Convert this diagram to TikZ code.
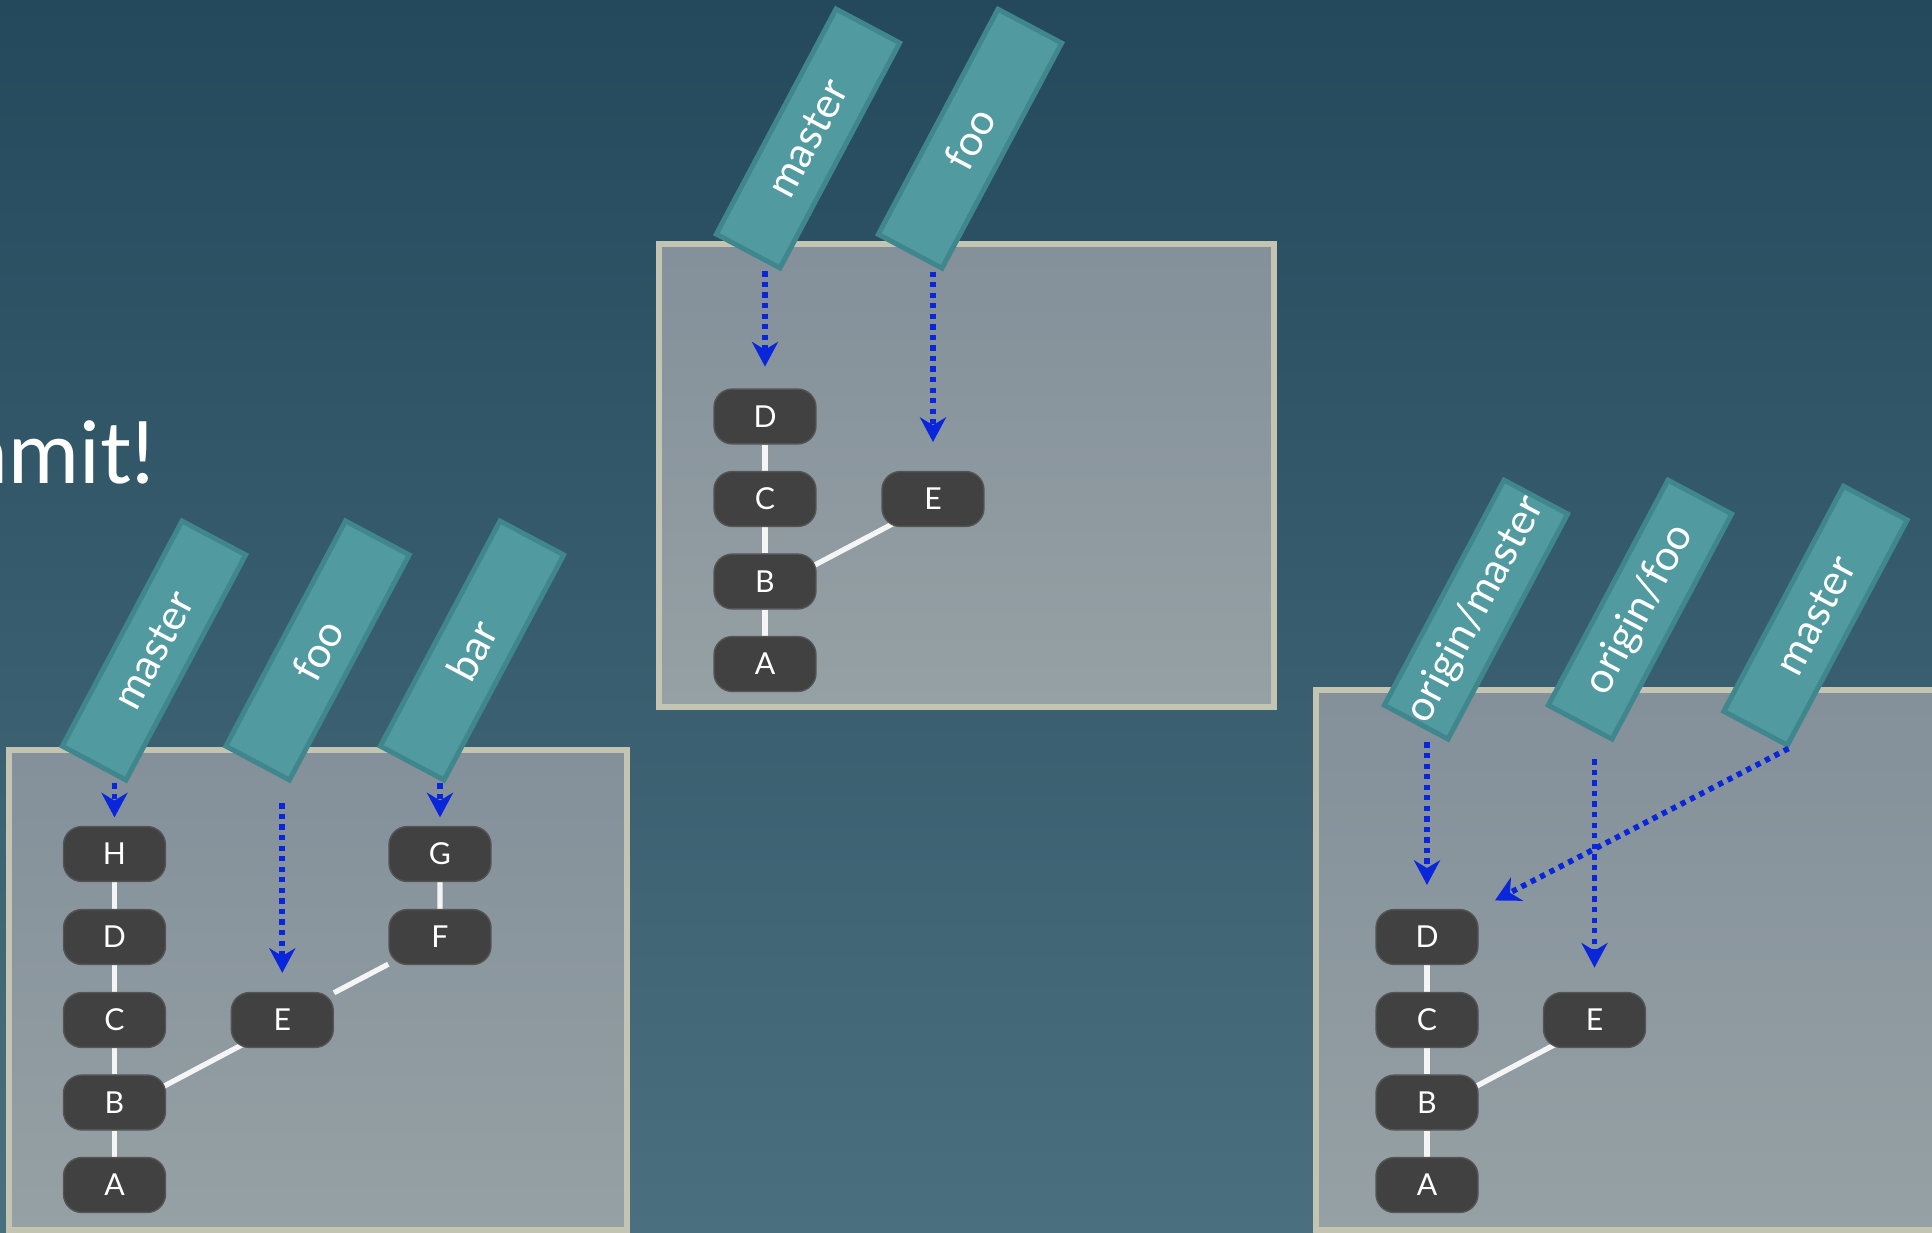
\documentclass[tikz,border=0pt]{standalone}
\usepackage{fontspec}
\setmainfont{Lato}
\usetikzlibrary{arrows.meta}
\definecolor{bgtop}{HTML}{24495C}
\definecolor{bgbot}{HTML}{4A6F7E}
\definecolor{paneltop}{HTML}{84909A}
\definecolor{panelbot}{HTML}{95A1A4}
\definecolor{panelrim}{HTML}{C3C4B1}
\definecolor{commitgray}{HTML}{414141}
\definecolor{tealfill}{HTML}{519BA0}
\definecolor{tealrim}{HTML}{3F878D}
\definecolor{ptrblue}{HTML}{0A26DA}
\pgfdeclarelayer{backdrop}
\pgfdeclarelayer{links}
\pgfsetlayers{backdrop,links,main}
\begin{document}
\begin{tikzpicture}
    [ x=0.01cm, y=-0.01cm
    , commit/.style={fill=commitgray, draw=commitgray!90!white, line width=0.4pt,
        rounded corners=5.2pt, minimum width=29pt, minimum height=15.6pt,
        inner sep=0pt, text=white, font=\fontsize{8.6}{9}\selectfont}
    , branch/.style={fill=tealfill, draw=tealrim, line width=1.4pt, rotate=62,
        minimum width=72.5pt, minimum height=20.5pt, inner sep=0pt,
        text=white, font=\fontsize{12}{13}\selectfont}
    , link/.style={draw=white!96!black, line width=1.5pt}
    , ptr/.style={draw=ptrblue, line width=1.6pt, dash pattern=on 1.5pt off 1.5pt,
        -{Stealth[length=7pt,width=7.4pt,inset=2.2pt]}}
    , panel/.style={draw=panelrim, line width=1.5pt, top color=paneltop, bottom color=panelbot}
    , headline/.style={text=white, inner sep=0pt, font=\fontsize{24.5}{28}\selectfont}
    ]
\useasboundingbox (0,0) rectangle (1932,1233);
\begin{pgfonlayer}{backdrop}
\fill[top color=bgtop, bottom color=bgbot] (0,0) rectangle (1932,1233);
\draw[panel] (9,750) rectangle (627,1230);
\draw[panel] (659,244) rectangle (1274,707);
\draw[panel] (1316,690) rectangle (1945,1230);
\end{pgfonlayer}
\node[headline, anchor=base east] (headline) at (155,483) {commit!};
%% left repo
\node[commit] (lA) at (114.5,1185) {A};
\node[commit] (lB) at (114.5,1102.5) {B};
\node[commit] (lC) at (114.5,1020) {C};
\node[commit] (lD) at (114.5,937) {D};
\node[commit] (lH) at (114.5,854) {H};
\node[commit] (lE) at (282.3,1020) {E};
\node[commit] (lF) at (440,937) {F};
\node[commit] (lG) at (440,854) {G};
\node[branch] (lmaster) at (154,650.5) {master};
\node[branch] (lfoo) at (317.5,650.5) {foo};
\node[branch] (lbar) at (472,650.5) {bar};
%% middle repo
\node[commit] (mA) at (765,664) {A};
\node[commit] (mB) at (765,581.5) {B};
\node[commit] (mC) at (765,499) {C};
\node[commit] (mD) at (765,416.5) {D};
\node[commit] (mE) at (933,499) {E};
\node[branch] (mmaster) at (808,138.5) {master};
\node[branch] (mfoo) at (970,138.7) {foo};
%% right repo
\node[commit] (rA) at (1427,1185) {A};
\node[commit] (rB) at (1427,1102.5) {B};
\node[commit] (rC) at (1427,1020) {C};
\node[commit] (rD) at (1427,937) {D};
\node[commit] (rE) at (1594.5,1020) {E};
\node[branch] (rorigmaster) at (1476,609.6) {origin/master};
\node[branch] (rorigfoo) at (1640,609.6) {origin/foo};
\node[branch] (rmaster) at (1815.5,615.7) {master};
\begin{pgfonlayer}{links}
\draw[link] (lA) -- (lB) -- (lC) -- (lD) -- (lH);
\draw[link] ([yshift=-2.8pt]lB.center) -- ([yshift=-1pt]lE.center);
\draw[link] (lE) -- (lF) -- (lG);
\draw[link] (mA) -- (mB) -- (mC) -- (mD);
\draw[link] ([yshift=-2.8pt]mB.center) -- ([yshift=-1pt]mE.center);
\draw[link] (rA) -- (rB) -- (rC) -- (rD);
\draw[link] ([yshift=-2.8pt]rB.center) -- ([yshift=-1pt]rE.center);
\end{pgfonlayer}
%% pointers
\draw[ptr, shorten >=2.4pt] (lmaster.south west -| lH) -- (lH.north);
\draw[ptr, shorten <=5.7pt, shorten >=5.4pt] (lfoo.south west -| lE) -- (lE.north);
\draw[ptr, shorten >=2.4pt] (lbar.south west -| lG) -- (lG.north);
\draw[ptr, shorten >=6.2pt] (mmaster.south west -| mD) -- (mD.north);
\draw[ptr, shorten >=8.2pt] (mfoo.south west -| mE) -- (mE.north);
\draw[ptr, shorten >=6.8pt] (rorigmaster.south west -| rD) -- (rD.north);
\draw[ptr, shorten <=4.8pt, shorten >=6.9pt] (rorigfoo.south west -| rE) -- (rE.north);
\draw[ptr, shorten >=5.2pt] (rmaster.south west) -- (rD.north east);
\end{tikzpicture}
\end{document}
